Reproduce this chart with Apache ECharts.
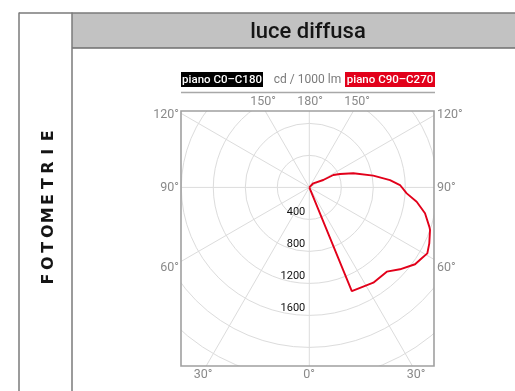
<!DOCTYPE html>
<html>
<head>
<meta charset="utf-8">
<script src="https://cdn.jsdelivr.net/npm/echarts@6/dist/echarts.min.js"></script>
<style>
  html, body { margin: 0; padding: 0; background: #fff; }
  #chart { width: 515px; height: 391px; }
</style>
</head>
<body>
<div id="chart"></div>
<script>
// Polar photometric curve, plane C90-C270 (angle in degrees from nadir, intensity in cd/1000 lm)
const curveAngles = [0, 10, 20, 22.3, 33.9, 42.6, 47.9, 54.0, 57.8, 60.8, 65.0, 70.6, 71.9, 77.4, 82.4, 86.5, 91.5, 95.2, 100.4, 107.8, 113.6, 117.3, 117.9, 135.7, 180];
const curveValues = [0, 0, 0, 1400, 1435, 1431, 1527, 1634, 1661, 1690, 1655, 1600, 1578, 1482, 1354, 1220, 1134, 1013, 813, 578, 419, 338, 198, 72, 0];

// Radial tick labels and angle labels
const radiusTicks = [400, 800, 1200, 1600];
const angleLabelsTop = ['150°', '180°', '150°'];
const angleLabelsLeft = ['120°', '90°', '60°'];
const angleLabelsRight = ['120°', '90°', '60°'];
const angleLabelsBottom = ['30°', '0°', '30°'];

const title = 'luce diffusa';
const sideTitle = 'FOTOMETRIE';
const legendLeft = 'piano C0–C180';
const legendMid = 'cd / 1000 lm';
const legendRight = 'piano C90–C270';

const RED = '#e2001a';
const GRID = '#dcdcdc';
const LABEL = '#8a8a8a';
const FONT = 'Roboto, "Liberation Sans", sans-serif';

// Plot frame (the polar diagram is clipped to this box)
const box = { x: 181, y: 111, w: 253, h: 255 };

const chart = echarts.init(document.getElementById('chart'), null, { renderer: 'canvas' });

const seriesData = curveAngles.map((a, i) => [curveValues[i], a]);

chart.setOption({
  animation: false,
  backgroundColor: '#fff',
  polar: { center: [309.3, 187.4], radius: 224 },
  angleAxis: {
    type: 'value', min: 0, max: 360, interval: 30,
    startAngle: 270, clockwise: false,
    axisLine: { show: false }, axisTick: { show: false }, axisLabel: { show: false },
    splitLine: { show: true, lineStyle: { color: GRID, width: 1 } }
  },
  radiusAxis: {
    type: 'value', min: 0, max: 2800, interval: 400,
    axisLine: { show: false }, axisTick: { show: false }, axisLabel: { show: false },
    splitLine: { show: true, lineStyle: { color: GRID, width: 1 } }
  },
  series: [{
    type: 'line',
    coordinateSystem: 'polar',
    data: seriesData,
    symbol: 'none',
    smooth: false,
    lineStyle: { color: RED, width: 1.9 },
    z: 5
  }]
});

// Decorations: masks outside the box, frame, header, legend and labels
const g = [];
const W = 515, H = 391;
// white masks
g.push({ type: 'rect', z: 10, shape: { x: 0, y: 0, width: W, height: box.y }, style: { fill: '#fff' } });
g.push({ type: 'rect', z: 10, shape: { x: 0, y: box.y + box.h, width: W, height: H }, style: { fill: '#fff' } });
g.push({ type: 'rect', z: 10, shape: { x: 0, y: 0, width: box.x, height: H }, style: { fill: '#fff' } });
g.push({ type: 'rect', z: 10, shape: { x: box.x + box.w, y: 0, width: W, height: H }, style: { fill: '#fff' } });

// plot box border
g.push({ type: 'rect', z: 20, shape: { x: box.x, y: box.y, width: box.w, height: box.h },
  style: { fill: null, stroke: '#a0a0a0', lineWidth: 1.6 } });

// header band
g.push({ type: 'rect', z: 20, shape: { x: 72, y: 13, width: W - 72, height: 35 }, style: { fill: '#c2c2c2' } });
g.push({ type: 'line', z: 21, shape: { x1: 19, y1: 13, x2: W, y2: 13 }, style: { stroke: '#7a7a7a', lineWidth: 1.5 } });
g.push({ type: 'line', z: 21, shape: { x1: 72, y1: 48, x2: W, y2: 48 }, style: { stroke: '#6e6e6e', lineWidth: 1.5 } });
g.push({ type: 'line', z: 21, shape: { x1: 19, y1: 12.5, x2: 19, y2: H }, style: { stroke: '#7a7a7a', lineWidth: 1.5 } });
g.push({ type: 'line', z: 21, shape: { x1: 72, y1: 12.5, x2: 72, y2: H }, style: { stroke: '#7a7a7a', lineWidth: 1.5 } });
g.push({ type: 'text', z: 22, x: 308, y: 32,
  style: { text: title, fill: '#151515', font: '500 22px ' + FONT, textAlign: 'center', textVerticalAlign: 'middle' } });

// vertical side title, letter by letter
const letters = sideTitle.split('');
letters.forEach((ch, i) => {
  g.push({ type: 'text', z: 22, x: 49, y: 279 - i * 15.9, rotation: Math.PI / 2,
    style: { text: ch, fill: '#151515', font: 'bold 16px "DejaVu Sans", sans-serif', textAlign: 'center', textVerticalAlign: 'middle' } });
});

// legend row
g.push({ type: 'rect', z: 20, shape: { x: 181, y: 72, width: 82, height: 15 }, style: { fill: '#000' } });
g.push({ type: 'text', z: 22, x: 222, y: 80,
  style: { text: legendLeft, fill: '#fff', font: '500 11.5px ' + FONT, textAlign: 'center', textVerticalAlign: 'middle' } });
g.push({ type: 'text', z: 22, x: 307.5, y: 80,
  style: { text: legendMid, fill: '#7a7a7a', font: '12px ' + FONT, textAlign: 'center', textVerticalAlign: 'middle' } });
g.push({ type: 'rect', z: 20, shape: { x: 345, y: 72, width: 90, height: 15 }, style: { fill: RED } });
g.push({ type: 'text', z: 22, x: 390, y: 80,
  style: { text: legendRight, fill: '#fff', font: '500 11.5px ' + FONT, textAlign: 'center', textVerticalAlign: 'middle' } });
g.push({ type: 'line', z: 21, shape: { x1: 181, y1: 92.5, x2: 435, y2: 92.5 }, style: { stroke: '#a8a8a8', lineWidth: 1.5 } });

// angle labels
const labStyle = (t, align) => ({ text: t, fill: LABEL, font: '12.5px ' + FONT, textAlign: align, textVerticalAlign: 'middle' });
[263, 310, 357].forEach((x, i) => g.push({ type: 'text', z: 22, x: x, y: 102, style: labStyle(angleLabelsTop[i], 'center') }));
[203, 309, 416].forEach((x, i) => g.push({ type: 'text', z: 22, x: x, y: 375, style: labStyle(angleLabelsBottom[i], 'center') }));
[115, 188, 268].forEach((y, i) => g.push({ type: 'text', z: 22, x: 179, y: y, style: labStyle(angleLabelsLeft[i], 'right') }));
[115, 188, 268].forEach((y, i) => g.push({ type: 'text', z: 22, x: 437, y: y, style: labStyle(angleLabelsRight[i], 'left') }));

// radial scale labels placed along the nadir direction
radiusTicks.forEach(v => {
  const p = chart.convertToPixel({ polarIndex: 0 }, [v, 0]);
  g.push({ type: 'text', z: 22, x: p[0] - 4, y: p[1] - 7.5,
    style: { text: String(v), fill: '#111', font: '11px ' + FONT, textAlign: 'right', textVerticalAlign: 'middle' } });
});

chart.setOption({ graphic: { elements: g } });
</script>
</body>
</html>
